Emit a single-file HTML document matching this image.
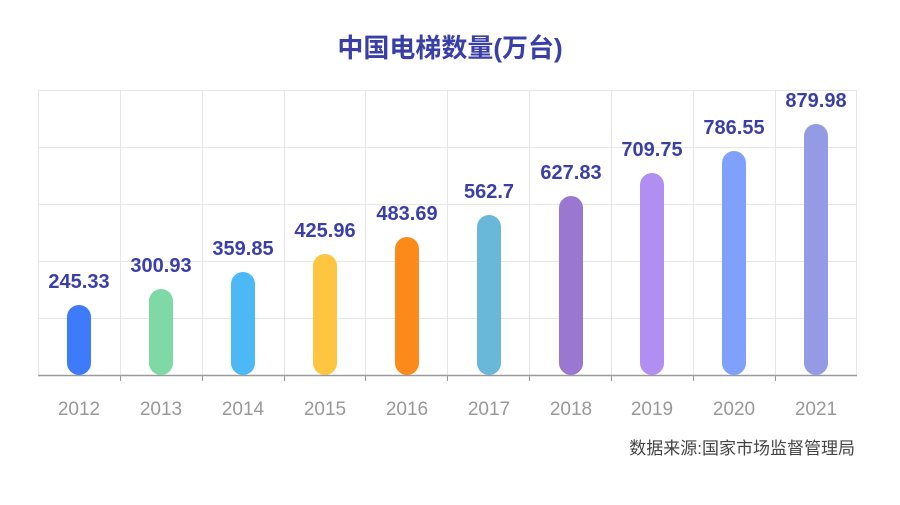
<!DOCTYPE html>
<html><head><meta charset="utf-8"><style>
body{margin:0;background:#fff;}
svg text{font-family:"Liberation Sans","Noto Sans CJK SC",sans-serif;}
</style></head><body>
<svg width="900" height="500" xmlns="http://www.w3.org/2000/svg">
<rect width="900" height="500" fill="#fff"/>
<text x="450" y="57" text-anchor="middle" font-size="26" font-weight="bold" fill="#3a3fa8">中国电梯数量(万台)</text>
<g stroke="#e6e6e6" stroke-width="1">
<line x1="38" y1="90.5" x2="857" y2="90.5"/>
<line x1="38" y1="147.5" x2="857" y2="147.5"/>
<line x1="38" y1="204.5" x2="857" y2="204.5"/>
<line x1="38" y1="261.5" x2="857" y2="261.5"/>
<line x1="38" y1="318.5" x2="857" y2="318.5"/>
<line x1="38.5" y1="90" x2="38.5" y2="375"/>
<line x1="120.5" y1="90" x2="120.5" y2="375"/>
<line x1="202.5" y1="90" x2="202.5" y2="375"/>
<line x1="284.5" y1="90" x2="284.5" y2="375"/>
<line x1="365.5" y1="90" x2="365.5" y2="375"/>
<line x1="447.5" y1="90" x2="447.5" y2="375"/>
<line x1="529.5" y1="90" x2="529.5" y2="375"/>
<line x1="611.5" y1="90" x2="611.5" y2="375"/>
<line x1="693.5" y1="90" x2="693.5" y2="375"/>
<line x1="775.5" y1="90" x2="775.5" y2="375"/>
<line x1="856.5" y1="90" x2="856.5" y2="375"/>
</g>
<line x1="38" y1="375.5" x2="857" y2="375.5" stroke="#999" stroke-width="1.5"/>
<g stroke="#999" stroke-width="1">
<line x1="120.5" y1="375" x2="120.5" y2="381"/><line x1="202.5" y1="375" x2="202.5" y2="381"/>
<line x1="284.5" y1="375" x2="284.5" y2="381"/><line x1="365.5" y1="375" x2="365.5" y2="381"/>
<line x1="447.5" y1="375" x2="447.5" y2="381"/><line x1="529.5" y1="375" x2="529.5" y2="381"/>
<line x1="611.5" y1="375" x2="611.5" y2="381"/><line x1="693.5" y1="375" x2="693.5" y2="381"/>
<line x1="775.5" y1="375" x2="775.5" y2="381"/>
</g>
<g font-size="19" fill="#999" text-anchor="middle">
<text x="79" y="415">2012</text><text x="161" y="415">2013</text><text x="243" y="415">2014</text>
<text x="325" y="415">2015</text><text x="407" y="415">2016</text><text x="489" y="415">2017</text>
<text x="571" y="415">2018</text><text x="652" y="415">2019</text><text x="734" y="415">2020</text>
<text x="816" y="415">2021</text>
</g>
<g font-size="20" font-weight="bold" fill="#3a3fa8" text-anchor="middle">
<rect x="67" y="305" width="24" height="70" rx="12" fill="#3e7bfa"/><text x="79" y="288">245.33</text>
<rect x="149" y="289" width="24" height="86" rx="12" fill="#7fd9a5"/><text x="161" y="272">300.93</text>
<rect x="231" y="272" width="24" height="103" rx="12" fill="#4cb8f5"/><text x="243" y="255">359.85</text>
<rect x="313" y="254" width="24" height="121" rx="12" fill="#fdc540"/><text x="325" y="237">425.96</text>
<rect x="395" y="237" width="24" height="138" rx="12" fill="#fc8a1b"/><text x="407" y="220">483.69</text>
<rect x="477" y="215" width="24" height="160" rx="12" fill="#6ab8d9"/><text x="489" y="198">562.7</text>
<rect x="559" y="196" width="24" height="179" rx="12" fill="#9a77d0"/><text x="571" y="179">627.83</text>
<rect x="640" y="173" width="24" height="202" rx="12" fill="#b08ef2"/><text x="652" y="156">709.75</text>
<rect x="722" y="151" width="24" height="224" rx="12" fill="#7fa0fb"/><text x="734" y="134">786.55</text>
<rect x="804" y="124" width="24" height="251" rx="12" fill="#929be3"/><text x="816" y="107">879.98</text>
</g>
<text x="855" y="454" text-anchor="end" font-size="17" fill="#444">数据来源:国家市场监督管理局</text>
</svg>
</body></html>
